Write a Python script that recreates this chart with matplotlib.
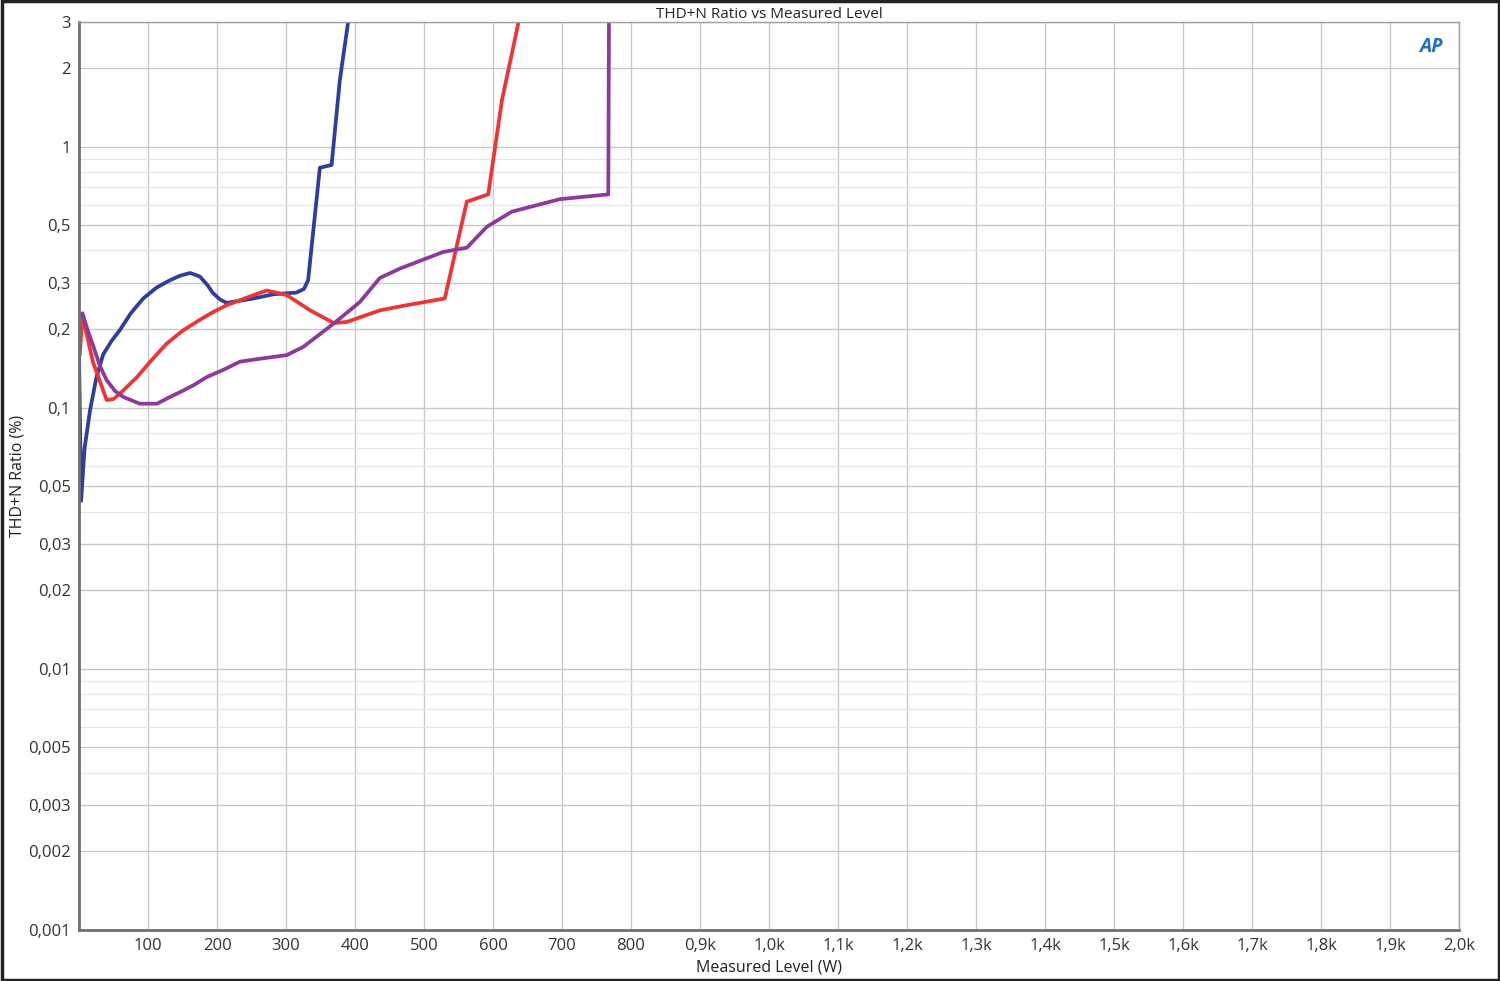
import numpy as np
import matplotlib.pyplot as plt
from matplotlib.ticker import FixedLocator, FixedFormatter, NullFormatter
from matplotlib.patches import Rectangle

# Blue trace (W, %)
blue_w = [0, 3, 8, 16, 25, 35, 47, 59, 75, 93, 112, 132, 146, 161, 175, 186, 194, 204,
          214, 253, 282, 315, 326, 332, 349, 366, 378, 390]
blue_thd = [0.16, 0.044, 0.07, 0.098, 0.13, 0.16, 0.18, 0.198, 0.23, 0.262, 0.288,
            0.308, 0.32, 0.328, 0.318, 0.295, 0.275, 0.26, 0.252, 0.262, 0.272, 0.276,
            0.285, 0.308, 0.83, 0.85, 1.8, 3.0]

# Red trace
red_w = [1, 5, 20, 40, 50, 62, 84, 105, 127, 150, 175, 195, 214, 253, 272, 301, 335,
         369, 388, 436, 475, 530, 562, 593, 613, 637]
red_thd = [0.16, 0.226, 0.15, 0.107, 0.108, 0.115, 0.131, 0.152, 0.176, 0.197, 0.217,
           0.233, 0.247, 0.27, 0.281, 0.27, 0.236, 0.211, 0.213, 0.236, 0.247, 0.262,
           0.615, 0.656, 1.51, 3.0]

# Purple trace
purple_w = [1, 5, 12, 21, 30, 40, 52, 64, 88, 113, 132, 150, 166, 185, 210, 233, 262,
            301, 325, 369, 407, 436, 465, 528, 562, 591, 627, 697, 767, 768]
purple_thd = [0.224, 0.23, 0.2, 0.171, 0.145, 0.1275, 0.116, 0.110, 0.1036, 0.1036,
              0.110, 0.116, 0.122, 0.131, 0.14, 0.150, 0.154, 0.159, 0.171, 0.210,
              0.254, 0.314, 0.341, 0.395, 0.41, 0.493, 0.563, 0.629, 0.656, 3.0]

x_ticks = [100, 200, 300, 400, 500, 600, 700, 800, 900, 1000, 1100, 1200, 1300,
           1400, 1500, 1600, 1700, 1800, 1900, 2000]
x_labels = ['100', '200', '300', '400', '500', '600', '700', '800', '0,9k', '1,0k',
            '1,1k', '1,2k', '1,3k', '1,4k', '1,5k', '1,6k', '1,7k', '1,8k', '1,9k', '2,0k']
y_ticks = [0.001, 0.002, 0.003, 0.005, 0.01, 0.02, 0.03, 0.05, 0.1, 0.2, 0.3, 0.5, 1, 2, 3]
y_labels = ['0,001', '0,002', '0,003', '0,005', '0,01', '0,02', '0,03', '0,05', '0,1',
            '0,2', '0,3', '0,5', '1', '2', '3']
y_minor = [m * 10.0 ** e for e in range(-3, 1) for m in (4, 6, 7, 8, 9)]

plt.rcParams['font.family'] = ['Open Sans', 'DejaVu Sans']

fig = plt.figure(figsize=(15, 9.81), dpi=100)
ax = fig.add_axes([0.0527, 0.052, 0.92, 0.9256])

ax.plot(blue_w, blue_thd, color='#2f3d9c', lw=2.7, solid_joinstyle='round')
ax.plot(red_w, red_thd, color='#ee3535', lw=2.7, solid_joinstyle='round')
ax.plot(purple_w, purple_thd, color='#8c3a9c', lw=2.7, solid_joinstyle='round')

ax.set_yscale('log')
ax.set_xlim(0, 2000)
ax.set_ylim(0.001, 3)

ax.xaxis.set_major_locator(FixedLocator(x_ticks))
ax.xaxis.set_major_formatter(FixedFormatter(x_labels))
ax.yaxis.set_major_locator(FixedLocator(y_ticks))
ax.yaxis.set_major_formatter(FixedFormatter(y_labels))
ax.yaxis.set_minor_locator(FixedLocator(y_minor))
ax.yaxis.set_minor_formatter(NullFormatter())

ax.grid(True, which='major', color='#c8c8c8', lw=1.0)
ax.grid(True, which='minor', axis='y', color='#e6e6e6', lw=0.9)
ax.tick_params(which='both', length=0, labelsize=12, colors='#333333', pad=6)

for s in ax.spines.values():
    s.set_color('#a0a0a0')
    s.set_linewidth(1.0)
ax.spines['left'].set_color('#707070')
ax.spines['bottom'].set_color('#707070')
ax.spines['left'].set_linewidth(2)
ax.spines['bottom'].set_linewidth(2)

ax.set_title('THD+N Ratio vs Measured Level', fontsize=11, color='#222222', pad=3)
ax.set_xlabel('Measured Level (W)', fontsize=11.5, color='#222222', labelpad=4)
ax.set_ylabel('THD+N Ratio (%)', fontsize=11.5, color='#222222', labelpad=2)

# AP logo
ax.text(0.98, 0.972, 'AP', transform=ax.transAxes, ha='center', va='center',
        fontsize=14, fontweight='bold', fontstyle='italic', color='#1f6fc2')

# outer frame
fig.patches.append(Rectangle((0.001, 0.001), 0.998, 0.998, transform=fig.transFigure,
                             fill=False, ec='#222222', lw=2.5))

fig.savefig('out.png', dpi=100)
